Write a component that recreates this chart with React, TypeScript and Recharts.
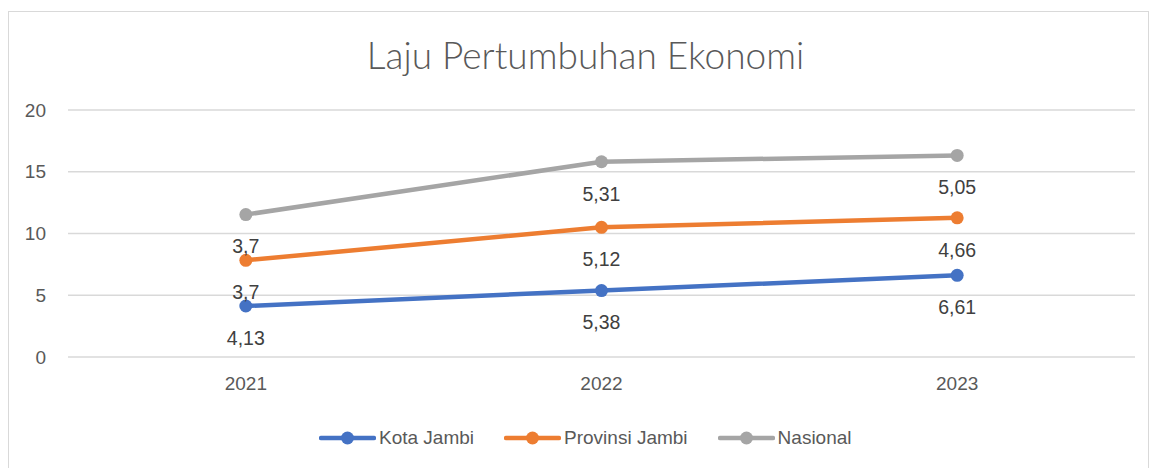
import { LineChart, Line, XAxis, YAxis, CartesianGrid, LabelList } from 'recharts';

// tahun dan nilai laju pertumbuhan (%)
const years = ['2021', '2022', '2023'];
const kotaJambi = [4.13, 5.38, 6.61];
const provinsiJambi = [3.7, 5.12, 4.66];
const nasional = [3.7, 5.31, 5.05];
const yTicks = [0, 5, 10, 15, 20];

const series = [
  { key: 'kota', name: 'Kota Jambi', color: '#4472C4' },
  { key: 'prov', name: 'Provinsi Jambi', color: '#ED7D31' },
  { key: 'nas', name: 'Nasional', color: '#A5A5A5' },
];

// excel chart is a stacked line, so positions are cumulative
const data = years.map((year, i) => ({
  year,
  kotaRaw: kotaJambi[i],
  provRaw: provinsiJambi[i],
  nasRaw: nasional[i],
  kota: kotaJambi[i],
  prov: kotaJambi[i] + provinsiJambi[i],
  nas: kotaJambi[i] + provinsiJambi[i] + nasional[i],
}));

const font = "'Liberation Sans', Arial, sans-serif";
const fmt = (v: any) => String(v).replace('.', ',');

const Legend = () => (
  <div
    style={{
      position: 'absolute',
      top: 415,
      left: 310,
      display: 'flex',
      gap: 30,
      fontFamily: font,
      fontSize: 19,
      color: '#595959',
    }}
  >
    {series.map((s) => (
      <div key={s.key} style={{ display: 'flex', alignItems: 'center' }}>
        <svg width={57} height={20}>
          <line x1={2} y1={10} x2={55} y2={10} stroke={s.color} strokeWidth={4.5} strokeLinecap='round' />
          <circle cx={28.5} cy={10} r={6.5} fill={s.color} />
        </svg>
        <span style={{ marginLeft: 3 }}>{s.name}</span>
      </div>
    ))}
  </div>
);

const App = () => {
  return (
    <div
      style={{
        position: 'relative',
        width: 1139,
        height: 460,
        marginTop: 3,
        border: '1px solid #d9d9d9',
        background: '#fff',
      }}
    >
      <div
        style={{
          position: 'absolute',
          top: 20,
          left: 0,
          width: '100%',
          textAlign: 'center',
          fontFamily: 'Lato, sans-serif',
          fontWeight: 300,
          fontSize: 37,
          color: '#595959',
          paddingLeft: 14,
          boxSizing: 'border-box',
        }}
      >
        Laju Pertumbuhan Ekonomi
      </div>
      <LineChart
        width={1139}
        height={455}
        data={data}
        margin={{ top: 98, right: 13, left: 14, bottom: 80 }}
      >
        <CartesianGrid vertical={false} stroke='#d9d9d9' strokeWidth={1.5} />
        <XAxis
          dataKey='year'
          scale='band'
          axisLine={false}
          tickLine={false}
          tickSize={0}
          tickMargin={20}
          height={30}
          tick={{ fill: '#595959', fontSize: 19, fontFamily: font }}
        />
        <YAxis
          domain={[0, 20]}
          ticks={yTicks}
          axisLine={false}
          tickLine={false}
          tickSize={0}
          tickMargin={22}
          width={45}
          tick={{ fill: '#595959', fontSize: 19, fontFamily: font }}
        />
        {series.map((s) => (
          <Line
            key={s.key}
            dataKey={s.key}
            name={s.name}
            stroke={s.color}
            strokeWidth={4.5}
            dot={{ r: 6.5, fill: s.color, stroke: s.color, strokeWidth: 0 }}
            activeDot={false}
            isAnimationActive={false}
          >
            <LabelList
              dataKey={s.key + 'Raw'}
              position='bottom'
              offset={25}
              formatter={fmt}
              fill='#404040'
              fontSize={19.5}
              fontFamily={font}
            />
          </Line>
        ))}
      </LineChart>
      <Legend />
    </div>
  );
};

export default App;
